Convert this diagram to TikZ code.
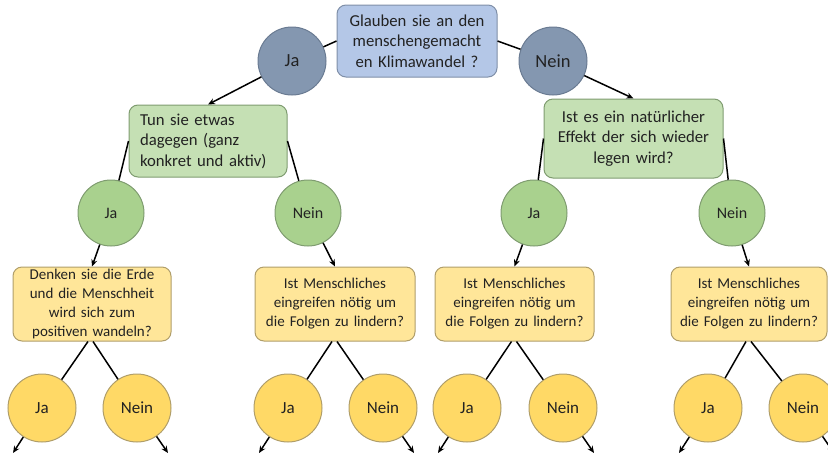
\documentclass[tikz,border=0pt]{standalone}
\usepackage{fontspec}
\setmainfont{Carlito}
\usetikzlibrary{arrows.meta,calc}
\definecolor{bluefill}{HTML}{B4C7E7}
\definecolor{bluedraw}{HTML}{7F8FA8}
\definecolor{darkfill}{HTML}{8497B0}
\definecolor{darkdraw}{HTML}{6A7B92}
\definecolor{gboxfill}{HTML}{C5E0B4}
\definecolor{gcircfill}{HTML}{A9D18E}
\definecolor{gdraw}{HTML}{7F9C70}
\definecolor{yboxfill}{HTML}{FFE699}
\definecolor{ycircfill}{HTML}{FFD966}
\definecolor{ydraw}{HTML}{B09E6A}
\definecolor{txt}{HTML}{222222}
\tikzset{
  qbox/.style={rectangle, rounded corners=9pt, line width=1pt, align=center, inner sep=0pt,
    text=txt, font={\fontsize{15}{19}\selectfont}},
  bigq/.style={font={\fontsize{16.7}{20.5}\selectfont}},
  ans/.style={circle, minimum size=68pt, inner sep=0pt, line width=1pt, text=txt,
    font={\fontsize{16.5}{18}\selectfont}},
  conn/.style={line width=1.5pt, black},
  arr/.style={conn, -{Stealth[length=7pt,width=6pt]}},
}
\begin{document}
\begin{tikzpicture}[x=1pt,y=-1pt]
\useasboundingbox (0,0) rectangle (828,456);
\clip (0,0) rectangle (828,456);
% top question
\node[qbox, bigq, fill=bluefill, draw=bluedraw, minimum width=160pt, minimum height=72pt, text width=155pt]
  (top) at (417,41) {Glauben sie an den\\menschengemacht\\en Klimawandel ?};
\node[ans, fill=darkfill, draw=darkdraw, font={\fontsize{18.5}{20}\selectfont}] (dja) at (292,61) {Ja};
\node[ans, fill=darkfill, draw=darkdraw, font={\fontsize{18.5}{20}\selectfont}] (dnein) at (553,61) {Nein};
% second level boxes
\node[qbox, bigq, fill=gboxfill, draw=gdraw, minimum width=158pt, minimum height=72pt, text width=136pt, align=left]
  (lbox) at (208,141) {Tun sie etwas\\dagegen (ganz\\konkret und aktiv)};
\node[qbox, bigq, fill=gboxfill, draw=gdraw, minimum width=179pt, minimum height=79pt, text width=172pt]
  (rbox) at (633.5,138.5) {Ist es ein natürlicher\\Effekt der sich wieder\\legen wird?};
% green answers
\node[ans, fill=gcircfill, draw=gdraw, minimum size=66pt, font={\fontsize{16}{18}\selectfont}] (gja1) at (111,213) {Ja};
\node[ans, fill=gcircfill, draw=gdraw, minimum size=66pt, font={\fontsize{16}{18}\selectfont}] (gnein1) at (308,213) {Nein};
\node[ans, fill=gcircfill, draw=gdraw, minimum size=66pt, font={\fontsize{16}{18}\selectfont}] (gja2) at (534,213) {Ja};
\node[ans, fill=gcircfill, draw=gdraw, minimum size=66pt, font={\fontsize{16}{18}\selectfont}] (gnein2) at (732,213) {Nein};
% yellow boxes
\node[qbox, fill=yboxfill, draw=ydraw, minimum width=158pt, minimum height=74pt, text width=152pt]
  (ybox1) at (92,304) {Denken sie die Erde\\und die Menschheit\\wird sich zum\\positiven wandeln?};
\node[qbox, fill=yboxfill, draw=ydraw, minimum width=160pt, minimum height=74pt, text width=152pt]
  (ybox2) at (335,304) {Ist Menschliches\\eingreifen nötig um\\die Folgen zu lindern?};
\node[qbox, fill=yboxfill, draw=ydraw, minimum width=159pt, minimum height=74pt, text width=152pt]
  (ybox3) at (514.5,304) {Ist Menschliches\\eingreifen nötig um\\die Folgen zu lindern?};
\node[qbox, fill=yboxfill, draw=ydraw, minimum width=156pt, minimum height=74pt, text width=152pt]
  (ybox4) at (749,304) {Ist Menschliches\\eingreifen nötig um\\die Folgen zu lindern?};
% yellow answers
\foreach \n/\x/\t in {yja1/42/Ja, yn1/137/Nein, yja2/288/Ja, yn2/383/Nein, yja3/467/Ja, yn3/563/Nein, yja4/708/Ja, yn4/803/Nein}
  \node[ans, fill=ycircfill, draw=ydraw, font={\fontsize{17}{18}\selectfont}] (\n) at (\x,408) {\t};
% free ends of the outgoing arrows
\foreach \n in {yja1,yja2,yja3,yja4}
  \coordinate (\n-end) at ($(\n.center)+(-29,45)$);
\foreach \n in {yn1,yn2,yn3,yn4}
  \coordinate (\n-end) at ($(\n.center)+(31,45)$);
% connectors
\draw[conn] (top.west) -- (dja);
\draw[conn] (top.east) -- (dnein);
\draw[arr] (dja) -- (lbox.north);
\draw[arr] (dnein) -- (rbox.north);
\draw[conn] (lbox.west) -- (gja1);
\draw[conn] (lbox.east) -- (gnein1);
\draw[conn] (rbox.west) -- (gja2);
\draw[conn] (rbox.east) -- (gnein2);
\draw[arr] (gja1) -- (ybox1.north);
\draw[arr] (gnein1) -- (ybox2.north);
\draw[arr] (gja2) -- (ybox3.north);
\draw[arr] (gnein2) -- (ybox4.north);
\draw[conn] ($(ybox1.south)+(-4,0)$) -- (yja1);
\draw[conn] ($(ybox1.south)+(1,0)$) -- (yn1);
\draw[conn] ($(ybox2.south)+(-3,0)$) -- (yja2);
\draw[conn] ($(ybox2.south)+(2,0)$) -- (yn2);
\draw[conn] ($(ybox3.south)+(-3,0)$) -- (yja3);
\draw[conn] ($(ybox3.south)+(2,0)$) -- (yn3);
\draw[conn] ($(ybox4.south)+(-3,0)$) -- (yja4);
\draw[conn] ($(ybox4.south)+(2,0)$) -- (yn4);
\foreach \n in {yja1,yn1,yja2,yn2,yja3,yn3,yja4,yn4}
  \draw[arr] (\n) -- (\n-end);
\end{tikzpicture}
\end{document}
